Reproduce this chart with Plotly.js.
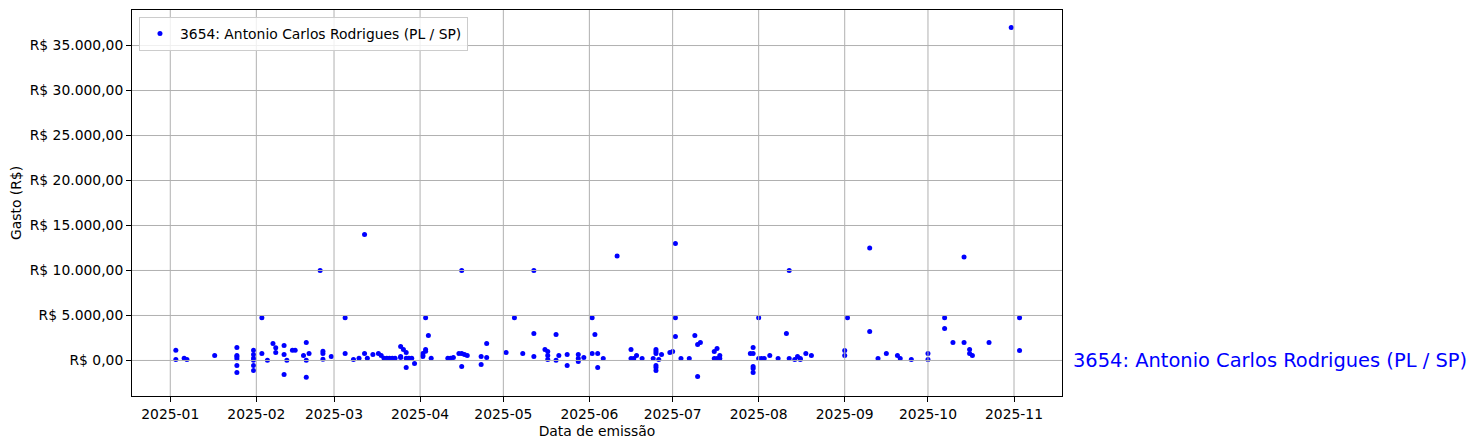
<!DOCTYPE html>
<html>
<head>
<meta charset="utf-8">
<script src="https://cdn.plot.ly/plotly-3.0.1.min.js"></script>
<style>html,body{margin:0;padding:0;background:#fff;}#chart{width:1476px;height:448px;}</style>
</head>
<body>
<div id="chart"></div>
<script>
const seriesName = "3654: Antonio Carlos Rodrigues (PL / SP)";
const dates = [
 "2025-01-03","2025-01-03","2025-01-06","2025-01-07","2025-01-17",
 "2025-01-25","2025-01-25","2025-01-25","2025-01-25","2025-01-25","2025-01-25",
 "2025-01-31","2025-01-31","2025-01-31","2025-01-31","2025-01-31","2025-01-31",
 "2025-02-03","2025-02-03","2025-02-05","2025-02-07","2025-02-08","2025-02-08",
 "2025-02-11","2025-02-11","2025-02-11","2025-02-12","2025-02-14","2025-02-15",
 "2025-02-18","2025-02-19","2025-02-19","2025-02-19","2025-02-20","2025-02-24",
 "2025-02-25","2025-02-25","2025-02-25","2025-02-28",
 "2025-03-05","2025-03-05","2025-03-08","2025-03-10","2025-03-12","2025-03-12",
 "2025-03-13","2025-03-15","2025-03-17","2025-03-18","2025-03-19","2025-03-20",
 "2025-03-21","2025-03-22","2025-03-23","2025-03-25","2025-03-25","2025-03-25",
 "2025-03-26","2025-03-27","2025-03-27","2025-03-27","2025-03-28","2025-03-29","2025-03-30",
 "2025-04-02","2025-04-02","2025-04-02","2025-04-03","2025-04-03","2025-04-03","2025-04-04","2025-04-05",
 "2025-04-11","2025-04-12","2025-04-13","2025-04-15","2025-04-16","2025-04-16","2025-04-16",
 "2025-04-17","2025-04-18","2025-04-23","2025-04-23","2025-04-25","2025-04-25",
 "2025-05-02","2025-05-05","2025-05-08","2025-05-12","2025-05-12","2025-05-12",
 "2025-05-16","2025-05-17","2025-05-17","2025-05-17","2025-05-20","2025-05-20","2025-05-21",
 "2025-05-24","2025-05-24","2025-05-28","2025-05-28","2025-05-28","2025-05-30",
 "2025-06-02","2025-06-02","2025-06-03","2025-06-04","2025-06-04","2025-06-06","2025-06-11",
 "2025-06-16","2025-06-16","2025-06-17","2025-06-18","2025-06-20",
 "2025-06-24","2025-06-25","2025-06-25","2025-06-25","2025-06-25","2025-06-25","2025-06-25",
 "2025-06-26","2025-06-27","2025-06-30","2025-07-01",
 "2025-07-02","2025-07-02","2025-07-02","2025-07-04","2025-07-07","2025-07-09",
 "2025-07-10","2025-07-10","2025-07-11","2025-07-16","2025-07-16","2025-07-17","2025-07-17",
 "2025-07-18","2025-07-18","2025-07-29","2025-07-30","2025-07-30","2025-07-30","2025-07-30","2025-07-30",
 "2025-08-01","2025-08-01","2025-08-02","2025-08-03","2025-08-05","2025-08-08","2025-08-11",
 "2025-08-12","2025-08-12","2025-08-14","2025-08-15","2025-08-16","2025-08-16","2025-08-18","2025-08-20",
 "2025-09-01","2025-09-01","2025-09-02","2025-09-10","2025-09-10","2025-09-13","2025-09-16",
 "2025-09-20","2025-09-21","2025-09-25",
 "2025-10-01","2025-10-01","2025-10-07","2025-10-07","2025-10-10","2025-10-14","2025-10-14",
 "2025-10-16","2025-10-16","2025-10-17","2025-10-23","2025-10-31","2025-11-03","2025-11-03"
];
const values = [
 1140,100,250,120,550,
 1440,550,400,180,-560,-1330,
 1140,660,250,30,-560,-1110,
 4750,780,20,1890,1400,890,
 1670,660,-1560,20,1140,1140,
 550,2000,20,-1860,780,10000,
 1030,780,140,440,
 4750,780,110,250,780,14000,
 250,660,780,550,250,250,
 250,250,250,1550,440,330,
 1220,890,250,-780,250,250,-330,
 780,550,440,4750,1220,1030,2780,250,
 250,250,330,780,780,10000,-670,
 660,550,440,-440,1890,330,
 890,4750,780,3000,440,10000,
 1220,1000,550,110,2890,20,550,
 660,-560,660,220,-110,330,
 4750,780,2890,780,-780,220,11600,
 1220,220,220,550,220,
 220,1220,1000,780,-560,-780,-1110,
 110,660,890,1000,
 4750,2670,13000,220,220,2780,
 1780,-1780,2000,1000,220,1330,220,
 550,220,780,1440,780,-670,-890,-1330,
 4750,220,220,220,550,220,3000,
 220,10000,110,440,220,110,780,550,
 1110,550,4750,3220,12500,220,780,
 550,220,110,
 780,110,4750,3560,2000,2000,11500,
 1220,780,550,2000,37000,4750,1110
];
const yTickValues = [0,5000,10000,15000,20000,25000,30000,35000];
const yTickLabels = ["R$ 0,00","R$ 5.000,00","R$ 10.000,00","R$ 15.000,00","R$ 20.000,00","R$ 25.000,00","R$ 30.000,00","R$ 35.000,00"];
const xTickValues = ["2025-01-01","2025-02-01","2025-03-01","2025-04-01","2025-05-01","2025-06-01","2025-07-01","2025-08-01","2025-09-01","2025-10-01","2025-11-01"];
const xTickLabels = ["2025-01","2025-02","2025-03","2025-04","2025-05","2025-06","2025-07","2025-08","2025-09","2025-10","2025-11"];

const gridColor = "#b0b0b0";
const font = {family: "DejaVu Sans, sans-serif", size: 13.89, color: "#000"};

const shapes = [];
xTickValues.forEach(v => shapes.push({type:"line", xref:"x", yref:"paper", x0:v, x1:v, y0:0, y1:1, layer:"above", line:{color:gridColor, width:1}}));
yTickValues.forEach(v => shapes.push({type:"line", xref:"paper", yref:"y", x0:0, x1:1, y0:v, y1:v, layer:"above", line:{color:gridColor, width:1}}));

const trace = {
  type: "scatter", mode: "markers", x: dates, y: values, name: seriesName,
  marker: {color: "#0000ff", size: 5, line: {width: 0}},
  showlegend: true, cliponaxis: true
};

const layout = {
  width: 1476, height: 448,
  margin: {l: 132, r: 414, t: 10, b: 52, pad: 0},
  paper_bgcolor: "#fff", plot_bgcolor: "#fff",
  font: font,
  showlegend: true,
  legend: {x: 0.0075, y: 0.982, xanchor: "left", yanchor: "top", bgcolor: "rgba(255,255,255,0.8)", bordercolor: "#cccccc", borderwidth: 1, font: font, itemwidth: 30},
  xaxis: {
    type: "date", range: ["2024-12-18 05:00", "2025-11-18 07:00"],
    tickmode: "array", tickvals: xTickValues, ticktext: xTickLabels,
    showgrid: false, zeroline: false, showline: true, mirror: true, linecolor: "#000", linewidth: 1,
    ticks: "outside", ticklen: 5, tickcolor: "#000", tickfont: font,
    title: {text: "Data de emissão", font: font, standoff: 5},
    automargin: false
  },
  yaxis: {
    range: [-3950, 38950],
    tickmode: "array", tickvals: yTickValues, ticktext: yTickLabels,
    showgrid: false, zeroline: false, showline: true, mirror: true, linecolor: "#000", linewidth: 1,
    ticks: "outside", ticklen: 5, tickcolor: "#000", tickfont: font,
    title: {text: "Gasto (R$)", font: font, standoff: 4},
    automargin: false
  },
  shapes: shapes,
  annotations: [{
    xref: "paper", yref: "y", x: 1.0097, y: 0, xanchor: "left", yanchor: "middle",
    text: seriesName, showarrow: false, font: {family: "DejaVu Sans, sans-serif", size: 19.44, color: "#0000ff"}
  }]
};

Plotly.newPlot("chart", [trace], layout, {displayModeBar: false, staticPlot: true});
</script>
</body>
</html>
